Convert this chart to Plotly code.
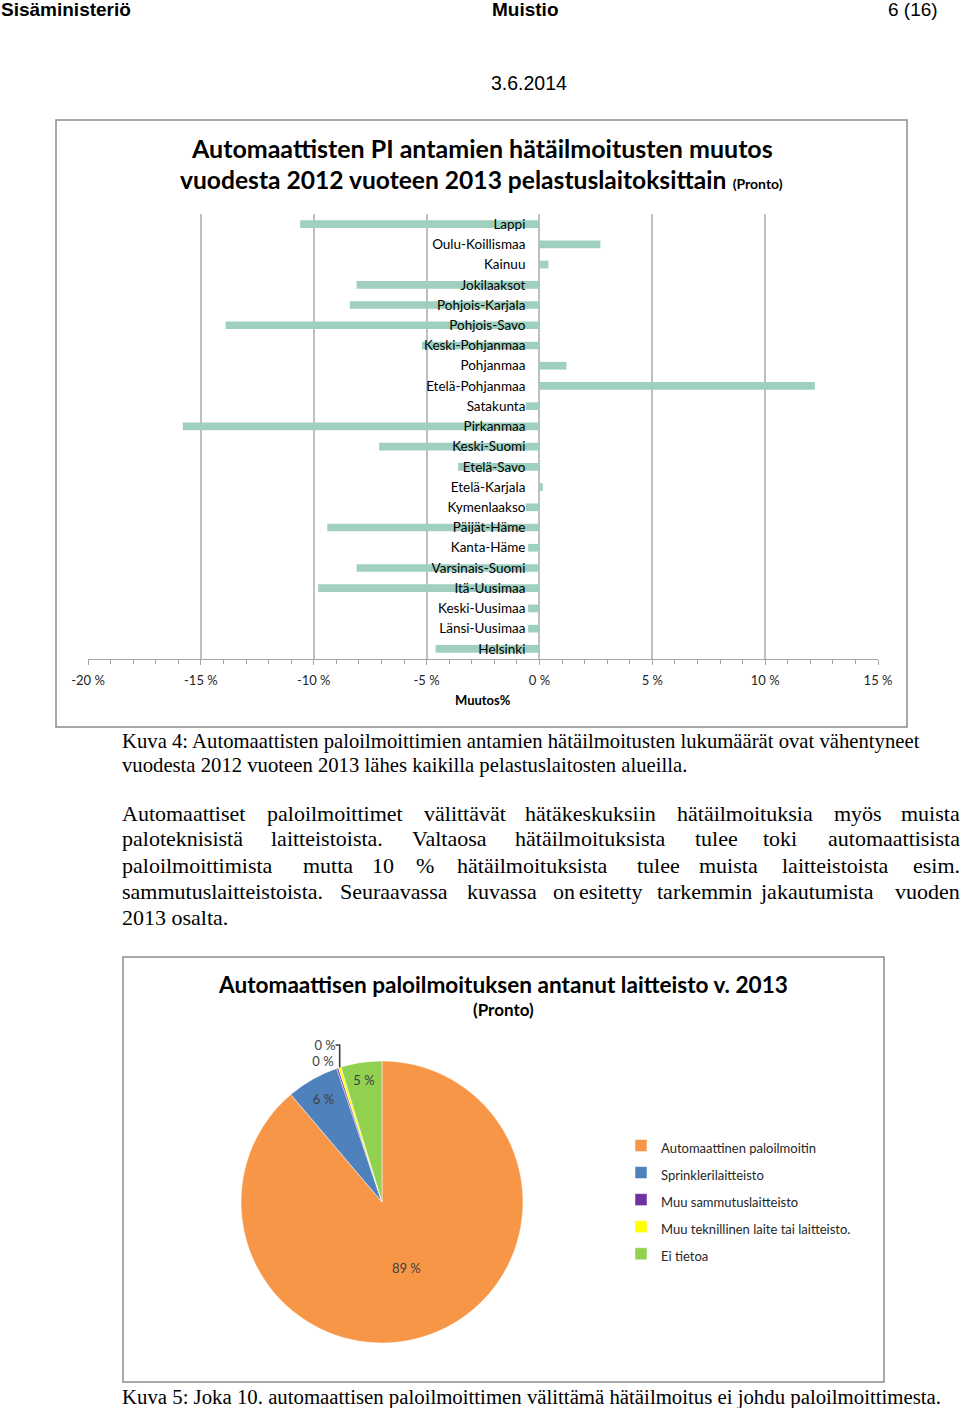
import plotly.graph_objects as go

W, H = 960, 1408

# ---------------- data ----------------
regions = ["Lappi", "Oulu-Koillismaa", "Kainuu", "Jokilaaksot", "Pohjois-Karjala",
           "Pohjois-Savo", "Keski-Pohjanmaa", "Pohjanmaa", "Etelä-Pohjanmaa", "Satakunta",
           "Pirkanmaa", "Keski-Suomi", "Etelä-Savo", "Etelä-Karjala", "Kymenlaakso",
           "Päijät-Häme", "Kanta-Häme", "Varsinais-Suomi", "Itä-Uusimaa", "Keski-Uusimaa",
           "Länsi-Uusimaa", "Helsinki"]
change_pct = [-10.6, 2.7, 0.4, -8.1, -8.4, -13.9, -5.2, 1.2, 12.2, -0.6,
              -15.8, -7.1, -3.6, 0.15, -0.6, -9.4, -0.5, -8.1, -9.8, -0.5,
              -0.5, -4.6]
x_ticks = [-20, -15, -10, -5, 0, 5, 10, 15]

devices = ["Automaattinen paloilmoitin", "Sprinklerilaitteisto", "Muu sammutuslaitteisto",
           "Muu teknillinen laite tai laitteisto.", "Ei tietoa"]
device_share = [88.8, 6.0, 0.2, 0.3, 4.7]
device_colors = ["#f79646", "#4f81bd", "#7030a0", "#ffff00", "#92d050"]

header_left = "Sisäministeriö"
header_mid = "Muistio"
header_right = "6 (16)"
header_date = "3.6.2014"
title1_l1 = "Automaattisten PI antamien hätäilmoitusten muutos"
title1_l2 = "vuodesta 2012 vuoteen 2013 pelastuslaitoksittain"
title1_note = "(Pronto)"
axis_title = "Muutos%"
caption4 = ["Kuva 4: Automaattisten paloilmoittimien antamien hätäilmoitusten lukumäärät ovat vähentyneet",
            "vuodesta 2012 vuoteen 2013 lähes kaikilla pelastuslaitosten alueilla."]
paragraph = [
    ["Automaattiset", "paloilmoittimet", "välittävät", "hätäkeskuksiin", "hätäilmoituksia", "myös", "muista"],
    ["paloteknisistä", "laitteistoista.", "Valtaosa", "hätäilmoituksista", "tulee", "toki", "automaattisista"],
    ["paloilmoittimista", "mutta", "10", "%", "hätäilmoituksista", "tulee", "muista", "laitteistoista", "esim."],
    ["sammutuslaitteistoista.", "Seuraavassa", "kuvassa", "on", "esitetty", "tarkemmin", "jakautumista", "vuoden"],
    ["2013 osalta."],
]
title2 = "Automaattisen paloilmoituksen antanut laitteisto v. 2013"
title2_note = "(Pronto)"
caption5 = "Kuva 5: Joka 10. automaattisen paloilmoittimen välittämä hätäilmoitus ei johdu paloilmoittimesta."

# ---------------- layout helpers ----------------
def px(x):
    return x / W

def py(y):
    return 1 - y / H

SERIF = "Liberation Serif, Times New Roman, serif"
SANS = "Liberation Sans, Arial, sans-serif"
CAL = "Lato, Carlito, Calibri, sans-serif"

fig = go.Figure()

# bar chart
fig.add_trace(go.Bar(
    x=change_pct, y=regions, orientation="h",
    marker=dict(color="#9fcfbe", line=dict(width=0)),
    width=0.38, xaxis="x", yaxis="y", showlegend=False, hoverinfo="x+y",
))

# pie chart
fig.add_trace(go.Pie(
    labels=[f"<span style='font-size:13px'>{d}</span>" for d in devices],
    values=device_share,
    marker=dict(colors=device_colors, line=dict(color="white", width=0.5)),
    sort=False, direction="clockwise", rotation=0,
    texttemplate="%{value:.0f} %",
    textposition=["inside", "inside", "outside", "outside", "inside"],
    insidetextorientation="horizontal",
    textfont=dict(family=CAL, size=13, color="#404040"),
    domain=dict(x=[px(241), px(523)], y=[py(1343), py(1061)]),
    showlegend=True, automargin=False,
    hoverinfo="label+percent",
))

x_dom = [px(88), px(878)]
zero_pos = x_dom[0] + (x_dom[1] - x_dom[0]) * (0 - x_ticks[0]) / (x_ticks[-1] - x_ticks[0])

fig.update_layout(
    width=W, height=H, autosize=False,
    margin=dict(l=0, r=0, t=0, b=0, pad=0, autoexpand=False),
    paper_bgcolor="white", plot_bgcolor="white",
    font=dict(family=CAL, color="#000000"),
    xaxis=dict(
        domain=x_dom, range=[x_ticks[0], x_ticks[-1]],
        tickvals=x_ticks, ticktext=[f"{v} %" for v in x_ticks],
        showgrid=True, gridcolor="#bfbfbf", gridwidth=1.5,
        zeroline=True, zerolinecolor="#bfbfbf", zerolinewidth=1.5,
        showline=True, linecolor="#a6a6a6", linewidth=1,
        ticks="outside", ticklen=5, tickcolor="#a6a6a6",
        minor=dict(dtick=1, ticks="outside", ticklen=4, tickcolor="#a6a6a6", showgrid=False),
        tickfont=dict(family=CAL, size=13, color="#262626"),
        ticklabelstandoff=4,
        anchor="y", fixedrange=True, automargin=False,
    ),
    yaxis=dict(
        domain=[py(659), py(214)],
        type="category", autorange="reversed",
        anchor="free", position=zero_pos,
        showgrid=False, showline=False, zeroline=False, ticks="",
        ticklabelstandoff=14,
        tickfont=dict(family=CAL, size=13.5, color="#000000"),
        layer="above traces", fixedrange=True, automargin=False,
    ),
    legend=dict(
        x=px(621), y=py(1127), xanchor="left", yanchor="top",
        font=dict(family=CAL, size=18.5, color="#262626"),
        bgcolor="rgba(0,0,0,0)", itemclick=False, itemdoubleclick=False,
    ),
    bargap=0.62,
)

shapes = [
    dict(type="rect", xref="paper", yref="paper", x0=px(56), x1=px(907), y0=py(727), y1=py(120),
         line=dict(color="#8c8c8c", width=1.5), fillcolor="rgba(0,0,0,0)", layer="below"),
    dict(type="rect", xref="paper", yref="paper", x0=px(123), x1=px(884), y0=py(1382), y1=py(957),
         line=dict(color="#8c8c8c", width=1.5), fillcolor="rgba(0,0,0,0)", layer="below"),
]
fig.update_layout(shapes=shapes)

ann = []

def text(x, y, s, size, family, anchor="left", bold=False, color="#000000"):
    if bold:
        s = f"<b>{s}</b>"
    if anchor == "left":
        x -= 2
    elif anchor == "right":
        x += 2
    ann.append(dict(x=px(x), y=py(y), xref="paper", yref="paper", text=s, showarrow=False,
                    xanchor=anchor, yanchor="middle",
                    font=dict(size=size, family=family, color=color)))

# header
text(1, 10, header_left, 19, SANS, "left", True)
text(525, 10, header_mid, 19, SANS, "center", True)
text(938, 10, header_right, 19, SANS, "right")
text(529, 83, header_date, 19.5, SANS, "center")

# chart 1 titles
text(482, 148, title1_l1, 25, CAL, "center", True)
text(481, 180, f"<b>{title1_l2}</b> <b><span style='font-size:14px'>{title1_note}</span></b>", 24.6, CAL, "center")
text(483, 700, axis_title, 13, CAL, "center", True)

# caption 4
text(122, 741, caption4[0], 20.7, SERIF, "left")
text(122, 765, caption4[1], 20.7, SERIF, "left")

# paragraph (justified by word positions)
word_x = [
    [122, 267, 424, 525, 677, 834, 960],
    [122, 271, 412, 515, 695, 763, 960],
    [122, 303, 372, 416, 457, 637, 699, 782, 960],
    [122, 340, 467, 553, 579, 657, 760, 960],
    [122],
]
line_y = [813, 839, 865, 891, 917]
for words, xs, yy in zip(paragraph, word_x, line_y):
    for i, (w, xx) in enumerate(zip(words, xs)):
        last = (i == len(words) - 1) and len(words) > 1
        text(xx, yy, w, 22, SERIF, "right" if last else "left")

# chart 2 titles
text(503, 984, title2, 22.6, CAL, "center", True)
text(503, 1009, title2_note, 17, CAL, "center", True)

# caption 5
text(122, 1397, caption5, 20.8, SERIF, "left")

fig.update_layout(annotations=ann)

fig.write_html("out.html", config={"displayModeBar": False},
               post_script="document.body.style.margin='0px';")
